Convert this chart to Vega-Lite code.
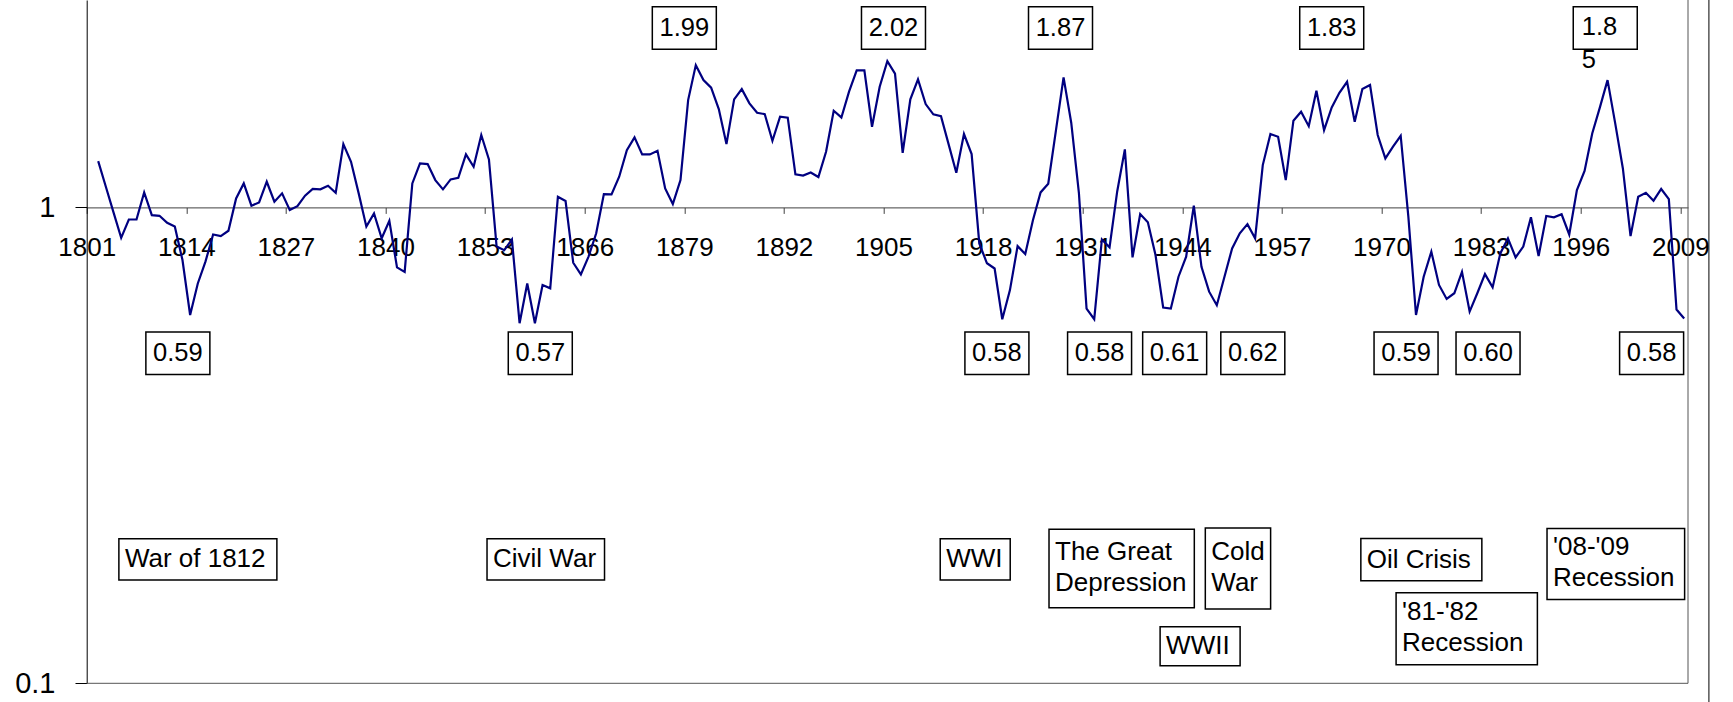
{
  "$schema": "https://vega.github.io/schema/vega-lite/v6.json",
  "width": 1601.3,
  "height": 683.3,
  "autosize": {"type": "none"},
  "padding": {"left": 86.7, "top": 0, "right": 45, "bottom": 18.7},
  "background": "white",
  "config": {
    "view": {"stroke": null},
    "font": "Liberation Sans",
    "text": {"font": "Liberation Sans", "color": "#000"}
  },
  "datasets": {
    "series": [
      {"year": 1802, "value": 1.251}, {"year": 1803, "value": 1.105}, {"year": 1804, "value": 0.976}, {"year": 1805, "value": 0.863},
      {"year": 1806, "value": 0.943}, {"year": 1807, "value": 0.943}, {"year": 1808, "value": 1.075}, {"year": 1809, "value": 0.963},
      {"year": 1810, "value": 0.960}, {"year": 1811, "value": 0.928}, {"year": 1812, "value": 0.911}, {"year": 1813, "value": 0.775},
      {"year": 1814, "value": 0.594}, {"year": 1815, "value": 0.692}, {"year": 1816, "value": 0.769}, {"year": 1817, "value": 0.877},
      {"year": 1818, "value": 0.870}, {"year": 1819, "value": 0.893}, {"year": 1820, "value": 1.044}, {"year": 1821, "value": 1.123},
      {"year": 1822, "value": 1.008}, {"year": 1823, "value": 1.024}, {"year": 1824, "value": 1.132}, {"year": 1825, "value": 1.028},
      {"year": 1826, "value": 1.070}, {"year": 1827, "value": 0.987}, {"year": 1828, "value": 1.006}, {"year": 1829, "value": 1.058},
      {"year": 1830, "value": 1.093}, {"year": 1831, "value": 1.091}, {"year": 1832, "value": 1.110}, {"year": 1833, "value": 1.073},
      {"year": 1834, "value": 1.358}, {"year": 1835, "value": 1.247}, {"year": 1836, "value": 1.070}, {"year": 1837, "value": 0.911},
      {"year": 1838, "value": 0.971}, {"year": 1839, "value": 0.861}, {"year": 1840, "value": 0.937}, {"year": 1841, "value": 0.748},
      {"year": 1842, "value": 0.732}, {"year": 1843, "value": 1.123}, {"year": 1844, "value": 1.237}, {"year": 1845, "value": 1.233},
      {"year": 1846, "value": 1.141}, {"year": 1847, "value": 1.091}, {"year": 1848, "value": 1.145}, {"year": 1849, "value": 1.154},
      {"year": 1850, "value": 1.292}, {"year": 1851, "value": 1.217}, {"year": 1852, "value": 1.419}, {"year": 1853, "value": 1.261},
      {"year": 1854, "value": 0.827}, {"year": 1855, "value": 0.813}, {"year": 1856, "value": 0.856}, {"year": 1857, "value": 0.571},
      {"year": 1858, "value": 0.692}, {"year": 1859, "value": 0.571}, {"year": 1860, "value": 0.687}, {"year": 1861, "value": 0.676},
      {"year": 1862, "value": 1.053}, {"year": 1863, "value": 1.031}, {"year": 1864, "value": 0.765}, {"year": 1865, "value": 0.723},
      {"year": 1866, "value": 0.788}, {"year": 1867, "value": 0.882}, {"year": 1868, "value": 1.066}, {"year": 1869, "value": 1.065},
      {"year": 1870, "value": 1.160}, {"year": 1871, "value": 1.319}, {"year": 1872, "value": 1.403}, {"year": 1873, "value": 1.292},
      {"year": 1874, "value": 1.292}, {"year": 1875, "value": 1.315}, {"year": 1876, "value": 1.096}, {"year": 1877, "value": 1.016},
      {"year": 1878, "value": 1.141}, {"year": 1879, "value": 1.680}, {"year": 1880, "value": 1.990}, {"year": 1881, "value": 1.851},
      {"year": 1882, "value": 1.784}, {"year": 1883, "value": 1.609}, {"year": 1884, "value": 1.358}, {"year": 1885, "value": 1.686},
      {"year": 1886, "value": 1.772}, {"year": 1887, "value": 1.654}, {"year": 1888, "value": 1.580}, {"year": 1889, "value": 1.570},
      {"year": 1890, "value": 1.380}, {"year": 1891, "value": 1.550}, {"year": 1892, "value": 1.543}, {"year": 1893, "value": 1.173},
      {"year": 1894, "value": 1.166}, {"year": 1895, "value": 1.184}, {"year": 1896, "value": 1.158}, {"year": 1897, "value": 1.309},
      {"year": 1898, "value": 1.596}, {"year": 1899, "value": 1.545}, {"year": 1900, "value": 1.750}, {"year": 1901, "value": 1.940},
      {"year": 1902, "value": 1.940}, {"year": 1903, "value": 1.477}, {"year": 1904, "value": 1.792}, {"year": 1905, "value": 2.029},
      {"year": 1906, "value": 1.909}, {"year": 1907, "value": 1.302}, {"year": 1908, "value": 1.686}, {"year": 1909, "value": 1.857},
      {"year": 1910, "value": 1.648}, {"year": 1911, "value": 1.568}, {"year": 1912, "value": 1.555}, {"year": 1913, "value": 1.356},
      {"year": 1914, "value": 1.182}, {"year": 1915, "value": 1.426}, {"year": 1916, "value": 1.294}, {"year": 1917, "value": 0.840},
      {"year": 1918, "value": 0.763}, {"year": 1919, "value": 0.744}, {"year": 1920, "value": 0.582}, {"year": 1921, "value": 0.670},
      {"year": 1922, "value": 0.829}, {"year": 1923, "value": 0.798}, {"year": 1924, "value": 0.940}, {"year": 1925, "value": 1.075},
      {"year": 1926, "value": 1.121}, {"year": 1927, "value": 1.449}, {"year": 1928, "value": 1.875}, {"year": 1929, "value": 1.506},
      {"year": 1930, "value": 1.073}, {"year": 1931, "value": 0.613}, {"year": 1932, "value": 0.582}, {"year": 1933, "value": 0.856},
      {"year": 1934, "value": 0.824}, {"year": 1935, "value": 1.080}, {"year": 1936, "value": 1.324}, {"year": 1937, "value": 0.785},
      {"year": 1938, "value": 0.968}, {"year": 1939, "value": 0.930}, {"year": 1940, "value": 0.794}, {"year": 1941, "value": 0.616},
      {"year": 1942, "value": 0.613}, {"year": 1943, "value": 0.715}, {"year": 1944, "value": 0.788}, {"year": 1945, "value": 1.008},
      {"year": 1946, "value": 0.750}, {"year": 1947, "value": 0.665}, {"year": 1948, "value": 0.623}, {"year": 1949, "value": 0.715},
      {"year": 1950, "value": 0.820}, {"year": 1951, "value": 0.882}, {"year": 1952, "value": 0.922}, {"year": 1953, "value": 0.861},
      {"year": 1954, "value": 1.227}, {"year": 1955, "value": 1.426}, {"year": 1956, "value": 1.407}, {"year": 1957, "value": 1.141},
      {"year": 1958, "value": 1.521}, {"year": 1959, "value": 1.588}, {"year": 1960, "value": 1.481}, {"year": 1961, "value": 1.758},
      {"year": 1962, "value": 1.453}, {"year": 1963, "value": 1.622}, {"year": 1964, "value": 1.741}, {"year": 1965, "value": 1.836},
      {"year": 1966, "value": 1.513}, {"year": 1967, "value": 1.772}, {"year": 1968, "value": 1.807}, {"year": 1969, "value": 1.419},
      {"year": 1970, "value": 1.267}, {"year": 1971, "value": 1.341}, {"year": 1972, "value": 1.414}, {"year": 1973, "value": 0.956},
      {"year": 1974, "value": 0.594}, {"year": 1975, "value": 0.715}, {"year": 1976, "value": 0.807}, {"year": 1977, "value": 0.687},
      {"year": 1978, "value": 0.642}, {"year": 1979, "value": 0.660}, {"year": 1980, "value": 0.732}, {"year": 1981, "value": 0.604},
      {"year": 1982, "value": 0.660}, {"year": 1983, "value": 0.724}, {"year": 1984, "value": 0.679}, {"year": 1985, "value": 0.800},
      {"year": 1986, "value": 0.861}, {"year": 1987, "value": 0.785}, {"year": 1988, "value": 0.827}, {"year": 1989, "value": 0.953},
      {"year": 1990, "value": 0.790}, {"year": 1991, "value": 0.959}, {"year": 1992, "value": 0.953}, {"year": 1993, "value": 0.967},
      {"year": 1994, "value": 0.877}, {"year": 1995, "value": 1.087}, {"year": 1996, "value": 1.193}, {"year": 1997, "value": 1.430},
      {"year": 1998, "value": 1.622}, {"year": 1999, "value": 1.851}, {"year": 2000, "value": 1.501}, {"year": 2001, "value": 1.207},
      {"year": 2002, "value": 0.870}, {"year": 2003, "value": 1.053}, {"year": 2004, "value": 1.073}, {"year": 2005, "value": 1.033},
      {"year": 2006, "value": 1.093}, {"year": 2007, "value": 1.041}, {"year": 2008, "value": 0.610}, {"year": 2009, "value": 0.584}
    ],
    "notes": [
      {"kind": "high", "label": "1.99", "year": 1878.5, "level": 2.382},
      {"kind": "high", "label": "2.02", "year": 1905.8, "level": 2.382},
      {"kind": "high", "label": "1.87", "year": 1927.6, "level": 2.382},
      {"kind": "high", "label": "1.83", "year": 1963.0, "level": 2.382},
      {"kind": "high", "label": "1.85", "year": 1998.7, "level": 2.382},
      {"kind": "low", "label": "0.59", "year": 1812.4, "level": 0.4937},
      {"kind": "low", "label": "0.57", "year": 1859.7, "level": 0.4937},
      {"kind": "low", "label": "0.58", "year": 1919.3, "level": 0.4937},
      {"kind": "low", "label": "0.58", "year": 1932.7, "level": 0.4937},
      {"kind": "low", "label": "0.61", "year": 1942.5, "level": 0.4937},
      {"kind": "low", "label": "0.62", "year": 1952.7, "level": 0.4937},
      {"kind": "low", "label": "0.59", "year": 1972.7, "level": 0.4937},
      {"kind": "low", "label": "0.60", "year": 1983.4, "level": 0.4937},
      {"kind": "low", "label": "0.58", "year": 2004.75, "level": 0.4937},
      {"kind": "event", "label": "War of 1812", "year": 1804.7, "level": 0.1821},
      {"kind": "event", "label": "Civil War", "year": 1852.75, "level": 0.1821},
      {"kind": "event", "label": "WWI", "year": 1911.9, "level": 0.1821},
      {"kind": "event", "label": "The Great\nDepression", "year": 1926.1, "level": 0.1743},
      {"kind": "event", "label": "Cold\nWar", "year": 1946.5, "level": 0.1742},
      {"kind": "event", "label": "WWII", "year": 1940.6, "level": 0.1196},
      {"kind": "event", "label": "Oil Crisis", "year": 1966.8, "level": 0.1819},
      {"kind": "event", "label": "'81-'82\nRecession", "year": 1971.4, "level": 0.1302},
      {"kind": "event", "label": "'08-'09\nRecession", "year": 1991.1, "level": 0.1782}
    ],
    "frame": [{"edge": "plot"}]
  },
  "layer": [
    {
      "data": {"name": "frame"},
      "mark": {"type": "rule", "color": "#555555", "strokeWidth": 1},
      "encoding": {"y": {"datum": 0.1, "title": null}}
    },
    {
      "data": {"name": "frame"},
      "mark": {"type": "rule", "color": "#555555", "strokeWidth": 1},
      "encoding": {"x": {"datum": 2009.5, "title": null}}
    },
    {
      "data": {"name": "frame"},
      "mark": {"type": "rule", "color": "#000000", "strokeWidth": 1},
      "encoding": {"x": {"datum": 2012.23, "title": null}, "y": {"datum": 0.09, "title": null}, "y2": {"datum": 2.727}}
    },
    {
      "data": {"name": "series"},
      "mark": {"type": "line", "color": "#000080", "strokeWidth": 2.2, "clip": true},
      "encoding": {
        "x": {
          "field": "year", "type": "quantitative",
          "scale": {"domain": [1800.5, 2009.5], "nice": false, "zero": false},
          "axis": {
            "title": null, "orient": "bottom", "offset": -475.9, "grid": false,
            "values": [1800.5, 1813.5, 1826.5, 1839.5, 1852.5, 1865.5, 1878.5, 1891.5, 1904.5, 1917.5, 1930.5, 1943.5, 1956.5, 1969.5, 1982.5, 1995.5, 2008.5],
            "labelExpr": "format(datum.value + 0.5, 'd')",
            "labelDx": 5, "tickSize": 6, "tickColor": "#404040", "domainColor": "#404040",
            "tickWidth": 1, "domainWidth": 1, "labelFontSize": 26, "labelColor": "#000000",
            "labelFont": "Liberation Sans", "labelPadding": 20.8,
            "labelFlush": false, "labelOverlap": false, "labelBound": false
          }
        },
        "y": {
          "field": "value", "type": "quantitative",
          "scale": {"type": "log", "domain": [0.1, 2.727], "nice": false},
          "axis": {
            "title": null, "values": [0.1, 1], "format": "~g", "grid": false,
            "tickSize": 11.7, "tickColor": "#000000", "domainColor": "#000000",
            "labelFontSize": 29, "labelColor": "#000000", "labelFont": "Liberation Sans",
            "labelPadding": 20, "labelFlush": false, "labelOverlap": false, "labelDy": 2
          }
        }
      }
    },
    {
      "data": {"name": "notes"},
      "transform": [{"filter": "datum.kind != 'event'"}],
      "mark": {"type": "rect", "width": 64, "height": 42.5, "fill": "white", "stroke": "#000000", "strokeWidth": 1.5},
      "encoding": {
        "x": {"field": "year", "type": "quantitative", "title": null},
        "y": {"field": "level", "type": "quantitative", "title": null}
      }
    },
    {
      "data": {"name": "notes"},
      "transform": [{"filter": "datum.kind != 'event' && datum.label != '1.85'"}],
      "mark": {"type": "text", "align": "center", "baseline": "middle", "fontSize": 25.5},
      "encoding": {
        "x": {"field": "year", "type": "quantitative", "title": null},
        "y": {"field": "level", "type": "quantitative", "title": null},
        "text": {"field": "label"}
      }
    },
    {
      "data": {"name": "notes"},
      "transform": [
        {"filter": "datum.label == '1.85'"},
        {"calculate": "substring(datum.label, 0, 3) + '\\n' + substring(datum.label, 3, 4)", "as": "wrapped"}
      ],
      "mark": {"type": "text", "align": "left", "baseline": "middle", "fontSize": 25.5, "dx": -23.5, "dy": -0.6, "lineHeight": 32.5, "lineBreak": "\n"},
      "encoding": {
        "x": {"field": "year", "type": "quantitative", "title": null},
        "y": {"field": "level", "type": "quantitative", "title": null},
        "text": {"field": "wrapped"}
      }
    },
    {
      "data": {"name": "notes"},
      "transform": [{"filter": {"field": "label", "equal": "War of 1812"}}],
      "mark": {"type": "rect", "align": "left", "width": 158, "height": 41.3, "fill": "white", "stroke": "#000000", "strokeWidth": 1.5},
      "encoding": {"x": {"field": "year", "type": "quantitative", "title": null}, "y": {"field": "level", "type": "quantitative", "title": null}}
    },
    {
      "data": {"name": "notes"},
      "transform": [{"filter": {"field": "label", "equal": "Civil War"}}],
      "mark": {"type": "rect", "align": "left", "width": 117.5, "height": 41.3, "fill": "white", "stroke": "#000000", "strokeWidth": 1.5},
      "encoding": {"x": {"field": "year", "type": "quantitative", "title": null}, "y": {"field": "level", "type": "quantitative", "title": null}}
    },
    {
      "data": {"name": "notes"},
      "transform": [{"filter": {"field": "label", "equal": "WWI"}}],
      "mark": {"type": "rect", "align": "left", "width": 70, "height": 41.3, "fill": "white", "stroke": "#000000", "strokeWidth": 1.5},
      "encoding": {"x": {"field": "year", "type": "quantitative", "title": null}, "y": {"field": "level", "type": "quantitative", "title": null}}
    },
    {
      "data": {"name": "notes"},
      "transform": [{"filter": {"field": "label", "equal": "The Great\nDepression"}}],
      "mark": {"type": "rect", "align": "left", "width": 145.3, "height": 78.4, "fill": "white", "stroke": "#000000", "strokeWidth": 1.5},
      "encoding": {"x": {"field": "year", "type": "quantitative", "title": null}, "y": {"field": "level", "type": "quantitative", "title": null}}
    },
    {
      "data": {"name": "notes"},
      "transform": [{"filter": {"field": "label", "equal": "Cold\nWar"}}],
      "mark": {"type": "rect", "align": "left", "width": 65.3, "height": 81, "fill": "white", "stroke": "#000000", "strokeWidth": 1.5},
      "encoding": {"x": {"field": "year", "type": "quantitative", "title": null}, "y": {"field": "level", "type": "quantitative", "title": null}}
    },
    {
      "data": {"name": "notes"},
      "transform": [{"filter": {"field": "label", "equal": "WWII"}}],
      "mark": {"type": "rect", "align": "left", "width": 80, "height": 39, "fill": "white", "stroke": "#000000", "strokeWidth": 1.5},
      "encoding": {"x": {"field": "year", "type": "quantitative", "title": null}, "y": {"field": "level", "type": "quantitative", "title": null}}
    },
    {
      "data": {"name": "notes"},
      "transform": [{"filter": {"field": "label", "equal": "Oil Crisis"}}],
      "mark": {"type": "rect", "align": "left", "width": 121, "height": 42.4, "fill": "white", "stroke": "#000000", "strokeWidth": 1.5},
      "encoding": {"x": {"field": "year", "type": "quantitative", "title": null}, "y": {"field": "level", "type": "quantitative", "title": null}}
    },
    {
      "data": {"name": "notes"},
      "transform": [{"filter": {"field": "label", "equal": "'81-'82\nRecession"}}],
      "mark": {"type": "rect", "align": "left", "width": 141.3, "height": 72, "fill": "white", "stroke": "#000000", "strokeWidth": 1.5},
      "encoding": {"x": {"field": "year", "type": "quantitative", "title": null}, "y": {"field": "level", "type": "quantitative", "title": null}}
    },
    {
      "data": {"name": "notes"},
      "transform": [{"filter": {"field": "label", "equal": "'08-'09\nRecession"}}],
      "mark": {"type": "rect", "align": "left", "width": 137.6, "height": 71, "fill": "white", "stroke": "#000000", "strokeWidth": 1.5},
      "encoding": {"x": {"field": "year", "type": "quantitative", "title": null}, "y": {"field": "level", "type": "quantitative", "title": null}}
    },
    {
      "data": {"name": "notes"},
      "transform": [{"filter": "datum.kind == 'event' && indexof(datum.label, '\\n') < 0"}],
      "mark": {"type": "text", "align": "left", "baseline": "middle", "fontSize": 26, "dx": 6},
      "encoding": {
        "x": {"field": "year", "type": "quantitative", "title": null},
        "y": {"field": "level", "type": "quantitative", "title": null},
        "text": {"field": "label"}
      }
    },
    {
      "data": {"name": "notes"},
      "transform": [{"filter": "datum.kind == 'event' && indexof(datum.label, '\\n') >= 0"}],
      "mark": {"type": "text", "align": "left", "baseline": "middle", "fontSize": 26, "dx": 6, "dy": -16.5, "lineHeight": 30.8, "lineBreak": "\n"},
      "encoding": {
        "x": {"field": "year", "type": "quantitative", "title": null},
        "y": {"field": "level", "type": "quantitative", "title": null},
        "text": {"field": "label"}
      }
    }
  ]
}
